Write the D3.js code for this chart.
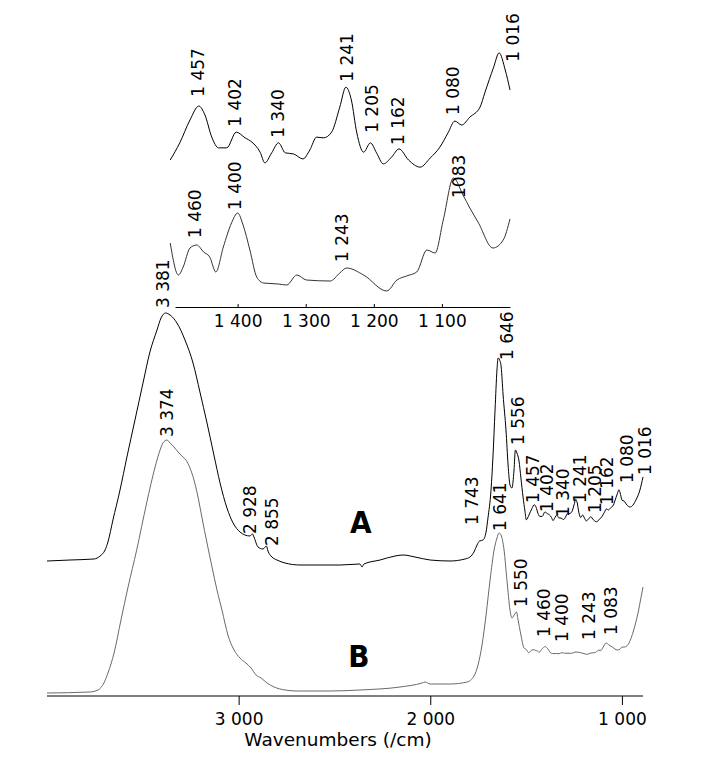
<!DOCTYPE html>
<html><head><meta charset="utf-8">
<script src="https://cdn.jsdelivr.net/npm/d3@7"></script>
<style>body{margin:0;background:#fff}text{font-family:"DejaVu Sans",Verdana,sans-serif;fill:#000}</style>
</head><body>
<script>
// ---------- data ----------
const mainTicks = [3000, 2000, 1000];
const insetTicks = [1400, 1300, 1200, 1100];
const axisTitle = "Wavenumbers (/cm)";

// spectrum A: [wavenumber, absorbance (arb.)]
const spectrumA = [
[4000,136],[3880,137],[3755,138],[3723,141],[3697,147],[3682,155],[3656,177],[3619,207],[3583,240],[3541,277],[3499,314],[3463,345],[3426,367],[3405,379],[3381,384],[3358,382],[3322,374],[3280,357],[3238,334],[3202,305],[3165,274],[3129,242],[3097,214],[3061,189],[3029,174],[2993,165],[2967,162],[2941,161],[2928,163],[2920,160],[2899,150],[2873,148],[2855,151],[2847,146],[2826,140],[2800,137],[2758,134],[2680,132],[2575,132],[2471,132],[2367,133],[2356,130],[2346,133],[2262,137],[2184,141],[2142,142],[2080,140],[2001,137],[1897,136],[1819,138],[1793,140],[1772,145],[1756,152],[1743,156],[1725,157],[1709,165],[1699,179],[1683,207],[1673,240],[1662,287],[1652,327],[1646,339],[1638,337],[1630,330],[1620,302],[1605,267],[1594,232],[1584,212],[1574,209],[1563,227],[1556,247],[1548,244],[1537,236],[1527,219],[1516,200],[1506,186],
[1499,177.2],[1485,182],[1470,188.4],[1457,192.3],[1448,189.8],[1438,183.6],[1428,180.6],[1416,180.6],[1402,185],[1389,183.4],[1379,182.2],[1367,179.4],[1360,176.4],[1350,179.2],[1340,182],[1330,179.2],[1318,178.9],[1304,177.5],[1294,180],[1284,183.6],[1274,183.4],[1262,185],[1250,192],[1241,197.6],[1233,194],[1225,184.8],[1215,179.4],[1205,182],[1196,179.2],[1186,176.1],[1174,178],[1163,180.3],[1149,177.2],[1132,175.2],[1117,177.8],[1103,180.8],[1091,184.8],[1081,188.1],[1071,187],[1059,189.2],[1044,192],[1037,196],[1024,203.2],[1016,207.2],[1007,202.4],[1000,196.8],
[989,196],[974,192],[958,190],[942,192],[927,197],[906,207],[890,220]
];

// spectrum B: [wavenumber, absorbance (arb.)]
const spectrumB = [
[4000,4],[3776,5],[3734,7],[3703,14],[3682,24],[3650,44],[3614,77],[3577,110],[3532,147],[3480,194],[3436,230],[3410,247],[3395,254],[3374,257],[3358,254],[3337,250],[3316,245],[3296,241],[3275,237],[3254,229],[3233,217],[3212,200],[3191,179],[3165,154],[3139,130],[3113,107],[3087,87],[3056,62],[3024,47],[2993,39],[2962,34],[2935,29],[2909,22],[2883,19],[2852,14],[2815,10],[2758,7],[2695,6],[2523,6],[2367,7],[2158,10],[2043,14],[2027,15],[2001,13],[1897,13],[1808,15],[1772,21],[1751,32],[1730,52],[1709,82],[1688,117],[1667,147],[1652,159],[1641,164],[1631,162],[1615,147],[1600,117],[1584,87],[1574,79],[1562,82],[1550,85],[1542,77],[1527,62],[1511,49],
[1499,47.5],[1487,44.3],[1480,45.1],[1470,47],[1460,47.3],[1450,46.6],[1441,46.1],[1432,44.6],[1421,47.1],[1409,49.5],[1400,50.5],[1392,49.3],[1382,46.8],[1372,44.1],[1362,43.5],[1340,43.4],[1328,43.3],[1313,44.3],[1299,43.8],[1264,43.7],[1250,44.5],[1240,45],[1215,44.3],[1181,42.7],[1166,43.8],[1152,44.2],[1137,44.6],[1122,46.8],[1110,46.5],[1098,49.8],[1083,54],[1069,52.3],[1059,51],[1047,49.6],[1025,47],[1010,47.8],[1000,49.9],
[985,50],[963,54],[940,66],[916,84],[900,100],[890,110]
];

// peak labels: [text, anchor wavenumber, anchor absorbance]
const mainLabelsA = [
["3 381",3395,389],["2 928",2941,163],["2 855",2826,151],["1 743",1782,172],["1 646",1600,337],["1 556",1542,252],
["1 457",1464,194],["1 402",1391,185],["1 340",1307,180],["1 241",1219,194],["1 205",1141,184],["1 162",1078,192],
["1 080",974,214],["1 016",880,222]
];
const mainLabelsB = [
["3 374",3374,260],["1 641",1636,166],["1 550",1527,90],["1 460",1407,60],["1 400",1313,55],["1 243",1172,57],["1 083",1057,62]
];
const insetLabelsA = [
["1 457",1458,194.9],["1 402",1404,186.5],["1 340",1341,183.4],["1 241",1239,199.1],["1 205",1203,184.8],["1 162",1164,181.4],["1 080",1084,189.8],["1 016",996,204.7]
];
const insetLabelsB = [
["1 460",1463,48.0],["1 400",1404,50.8],["1 243",1247,45.6],["1083",1075,52.0]
];
const traceNames = [["A",2362,164],["B",2372,30]];

// ---------- drawing ----------
const W = 705, H = 780;
const svg = d3.select("body").append("svg").attr("width", W).attr("height", H);

const x = d3.scaleLinear().domain([4000, 890]).range([47, 643]);
const y = d3.scaleLinear().domain([0, 400]).range([697, 297]);

const xi = d3.scaleLinear().domain([1492, 1000]).range([175, 510]);
const yiA = d3.scaleLinear().domain([138, 222]).range([300, 0]);
const yiB = d3.scaleLinear().domain([41.8, 71.8]).range([300, 0]);

const fmt = d => { const s = String(d); return s.slice(0, s.length - 3) + " " + s.slice(-3); };

// main axis
const gx = svg.append("g").attr("transform", "translate(0,696)")
  .call(d3.axisBottom(x).tickValues(mainTicks).tickFormat(fmt).tickSizeInner(9).tickSizeOuter(0).tickPadding(8));
gx.selectAll("path,line").attr("stroke", "#000").attr("stroke-width", 1);
gx.selectAll("text").style("font-size", "17px").attr("fill", "#000");
gx.select(".domain").attr("d", "M47,0H643");

svg.append("text").attr("x", 338).attr("y", 746).attr("text-anchor", "middle")
  .style("font-size", "18.5px").text(axisTitle);

// inset axis
const gi = svg.append("g").attr("transform", "translate(0,307)")
  .call(d3.axisBottom(xi).tickValues(insetTicks).tickFormat(fmt).tickSizeInner(-3).tickSizeOuter(0).tickPadding(8));
gi.selectAll("path,line").attr("stroke", "#000").attr("stroke-width", 1);
gi.selectAll("text").style("font-size", "17px").attr("fill", "#000");

// lines
const mk = (xs, ys) => d3.line().x(d => xs(d[0])).y(d => ys(d[1])).curve(d3.curveMonotoneX);

svg.append("path").datum(spectrumB).attr("d", mk(x, y)).attr("fill", "none").attr("stroke", "#6a6a6a").attr("stroke-width", 1);
svg.append("path").datum(spectrumA).attr("d", mk(x, y)).attr("fill", "none").attr("stroke", "#000").attr("stroke-width", 1);

const inA = spectrumA.filter(d => d[0] <= 1500 && d[0] >= 1000);
const inB = spectrumB.filter(d => d[0] <= 1500 && d[0] >= 1000);
svg.append("path").datum(inA).attr("d", mk(xi, yiA)).attr("fill", "none").attr("stroke", "#000").attr("stroke-width", 1);
svg.append("path").datum(inB).attr("d", mk(xi, yiB)).attr("fill", "none").attr("stroke", "#333").attr("stroke-width", 1);

// labels
function vlabels(data, xs, ys) {
  svg.append("g").selectAll("text").data(data).join("text")
    .attr("transform", d => `translate(${xs(d[1])},${ys(d[2])}) rotate(-90)`)
    .attr("dy", "0.36em").style("font-size", "17px").text(d => d[0]);
}
vlabels(mainLabelsA, x, y);
vlabels(mainLabelsB, x, y);
vlabels(insetLabelsA, xi, yiA);
vlabels(insetLabelsB, xi, yiB);

svg.append("g").selectAll("text").data(traceNames).join("text")
  .attr("x", d => x(d[1])).attr("y", d => y(d[2])).attr("text-anchor", "middle")
  .style("font-family", "'Liberation Sans Narrow','DejaVu Sans Condensed','Liberation Sans',sans-serif")
  .style("font-weight", "bold").style("font-size", "31px").text(d => d[0]);
</script>
</body></html>
